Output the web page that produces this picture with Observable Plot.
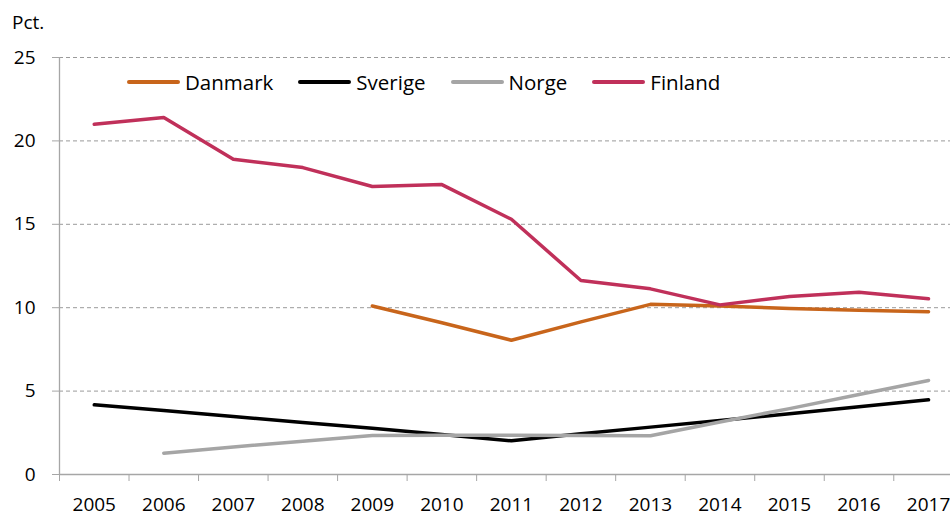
<!DOCTYPE html>
<html>
<head>
<meta charset="utf-8">
<script src="https://cdn.jsdelivr.net/npm/d3@7"></script>
<script src="https://cdn.jsdelivr.net/npm/@observablehq/plot@0.6"></script>
<style>
  html, body { margin: 0; padding: 0; background: #fff; overflow: hidden; }
  #wrap { position: relative; width: 950px; height: 513px; font-family: "Open Sans", Lato, sans-serif; color: #000; }
  #wrap svg { overflow: hidden; }
  #unit { position: absolute; left: 12px; top: 13px; font-size: 19px; line-height: 1; }
  #legend { position: absolute; left: 127px; top: 72px; display: flex; gap: 25px; font-size: 20.5px; line-height: 1; }
  .item { display: flex; align-items: center; }
  .swatch { width: 53px; height: 4px; border-radius: 2px; margin-right: 5px; }
</style>
</head>
<body>
<div id="wrap"></div>
<script>
const years = [2005, 2006, 2007, 2008, 2009, 2010, 2011, 2012, 2013, 2014, 2015, 2016, 2017];
const danmark = [null, null, null, null, 10.1, 9.1, 8.05, 9.15, 10.2, 10.1, 9.95, 9.85, 9.76];
const sverige = [4.18, 3.83, 3.48, 3.12, 2.77, 2.4, 2.02, 2.44, 2.84, 3.24, 3.64, 4.06, 4.48];
const norge = [null, 1.28, 1.65, 2.0, 2.34, 2.36, 2.36, 2.34, 2.32, 3.15, 3.95, 4.8, 5.64];
const finland = [21.0, 21.4, 18.9, 18.4, 17.27, 17.38, 15.3, 11.63, 11.13, 10.17, 10.67, 10.93, 10.53];
const yTicks = [0, 5, 10, 15, 20, 25];
const seriesNames = ["Danmark", "Sverige", "Norge", "Finland"];
const seriesColors = ["#C8651B", "#000000", "#A5A5A5", "#C0305A"];
const seriesValues = [danmark, sverige, norge, finland];

const rows = [];
seriesNames.forEach((name, i) => {
  years.forEach((yr, j) => {
    const v = seriesValues[i][j];
    if (v != null) rows.push({ series: name, year: yr, value: v });
  });
});
const bounds = years.map(y => y - 0.5).concat([years[years.length - 1] + 0.5]);
const axisGray = "#a6a6a6";

const chart = Plot.plot({
  width: 950,
  height: 513,
  marginLeft: 59,
  marginRight: 0,
  marginTop: 57,
  marginBottom: 39,
  style: { fontFamily: "'Open Sans', Lato, sans-serif", fontSize: "19px", color: "#000", background: "#fff" },
  x: { type: "linear", domain: [years[0] - 0.5, years[years.length - 1] + 0.5], range: [59, 962.8] },
  y: { domain: [0, 25], range: [474, 57] },
  color: { domain: seriesNames, range: seriesColors },
  marks: [
    Plot.ruleY(yTicks.filter(d => d > 0), { stroke: "#9a9a9a", strokeWidth: 1, strokeDasharray: "4,3" }),
    Plot.ruleY([0], { stroke: axisGray, strokeWidth: 1.3 }),
    Plot.ruleX([years[0] - 0.5], { stroke: axisGray, strokeWidth: 1.3 }),
    Plot.axisY({ ticks: yTicks, tickSize: 7, tickPadding: 17, stroke: axisGray, label: null, tickFormat: d => String(d), fill: "#000" }),
    Plot.axisX({ ticks: bounds, tickSize: 7, tickFormat: () => "", stroke: axisGray, label: null }),
    Plot.axisX({ ticks: years, tickSize: 0, tickPadding: 22.5, tickFormat: d => String(d), label: null, fill: "#000" }),
    Plot.line(rows, { x: "year", y: "value", z: "series", stroke: "series", strokeWidth: 3.5, strokeLinecap: "round", strokeLinejoin: "round" })
  ]
});

const wrap = document.getElementById("wrap");
wrap.appendChild(chart);

const unit = document.createElement("div");
unit.id = "unit";
unit.textContent = "Pct.";
wrap.appendChild(unit);

const legend = document.createElement("div");
legend.id = "legend";
seriesNames.forEach((name, i) => {
  const item = document.createElement("div");
  item.className = "item";
  const sw = document.createElement("span");
  sw.className = "swatch";
  sw.style.background = seriesColors[i];
  const label = document.createElement("span");
  label.textContent = name;
  item.appendChild(sw);
  item.appendChild(label);
  legend.appendChild(item);
});
wrap.appendChild(legend);
</script>
</body>
</html>
